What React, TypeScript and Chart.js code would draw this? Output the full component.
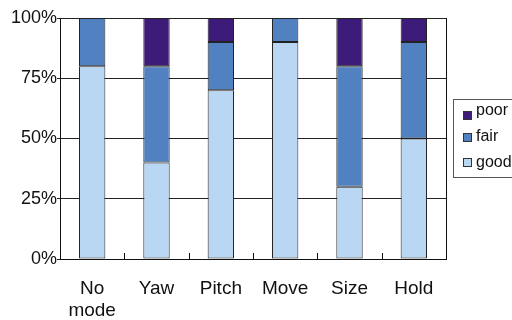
import React, { useEffect, useRef } from "react";
import { Chart, registerables } from "chart.js";

Chart.register(...registerables);

const categories: (string | string[])[] = [["No", "mode"], "Yaw", "Pitch", "Move", "Size", "Hold"];
const goodValues = [80, 40, 70, 90, 30, 50];
const fairValues = [20, 40, 20, 10, 50, 40];
const poorValues = [0, 20, 10, 0, 20, 10];
const yTicks = [0, 25, 50, 75, 100];
const legendLabels = ["poor", "fair", "good"];

const COLORS = { poor: "#3c1b79", fair: "#5181c1", good: "#b9d6f2" };
const FONT = "'Liberation Sans', Arial, sans-serif";

const extrasPlugin = {
  id: "extras",
  afterDraw(chart: any) {
    const ctx = chart.ctx;
    const a = chart.chartArea;
    const xs = chart.scales.x;
    ctx.save();
    // right border
    ctx.strokeStyle = "#111";
    ctx.lineWidth = 1;
    ctx.beginPath();
    ctx.moveTo(Math.round(a.right) + 0.5, a.top);
    ctx.lineTo(Math.round(a.right) + 0.5, a.bottom);
    ctx.stroke();
    // small inner ticks between categories
    for (let i = 0; i < categories.length - 1; i++) {
      const x = Math.round((xs.getPixelForValue(i) + xs.getPixelForValue(i + 1)) / 2) + 0.5;
      ctx.beginPath();
      ctx.moveTo(x, a.bottom);
      ctx.lineTo(x, a.bottom - 6);
      ctx.stroke();
    }
    // legend
    ctx.strokeStyle = "#555";
    ctx.strokeRect(453.5, 99.5, 80, 78);
    const squares = [111, 133, 158];
    const baselines = [115, 141, 167];
    const cols = [COLORS.poor, COLORS.fair, COLORS.good];
    ctx.font = `16px ${FONT}`;
    ctx.textBaseline = "alphabetic";
    ctx.textAlign = "left";
    for (let i = 0; i < legendLabels.length; i++) {
      ctx.fillStyle = cols[i];
      ctx.fillRect(463, squares[i], 9, 9);
      ctx.strokeStyle = "#333";
      ctx.strokeRect(463.5, squares[i] + 0.5, 8, 8);
      ctx.fillStyle = "#111";
      ctx.fillText(legendLabels[i], 476, baselines[i]);
    }
    ctx.restore();
  },
};

export default function App() {
  const ref = useRef<HTMLCanvasElement>(null);
  useEffect(() => {
    document.body.style.margin = "0";
    const ds = (label: string, data: number[], color: string) => ({
      label,
      data,
      backgroundColor: color,
      borderColor: "#222",
      borderWidth: 1,
      borderSkipped: false as any,
      barPercentage: 0.41,
      categoryPercentage: 1,
    });
    const chart = new Chart(ref.current!, {
      type: "bar",
      data: {
        labels: categories,
        datasets: [
          ds("good", goodValues, COLORS.good),
          ds("fair", fairValues, COLORS.fair),
          ds("poor", poorValues, COLORS.poor),
        ],
      },
      options: {
        animation: false,
        responsive: false,
        devicePixelRatio: 1,
        layout: { padding: { top: 18, right: 66, left: 0, bottom: 0 } },
        plugins: { legend: { display: false }, tooltip: { enabled: false } },
        scales: {
          x: {
            stacked: true,
            grid: { display: false, drawTicks: false, tickLength: 0 },
            border: { display: true, color: "#111", width: 1 },
            ticks: { color: "#111", font: { family: FONT, size: 19, lineHeight: 1.2 }, padding: 18, maxRotation: 0, autoSkip: false },
            afterFit: (s: any) => { s.height = 61; },
          },
          y: {
            stacked: true,
            min: 0,
            max: 100,
            afterBuildTicks: (s: any) => { s.ticks = yTicks.map((v) => ({ value: v })); },
            grid: { color: "#222", tickLength: 3, drawTicks: true },
            border: { display: true, color: "#111", width: 1 },
            ticks: { color: "#111", font: { family: FONT, size: 18 }, padding: 0, callback: (v: any) => `${v}%` },
            afterFit: (s: any) => { s.width = 60; },
          },
        },
      },
      plugins: [extrasPlugin],
    });
    return () => chart.destroy();
  }, []);
  return <canvas ref={ref} width={512} height={320} style={{ display: "block", width: 512, height: 320 }} />;
}
